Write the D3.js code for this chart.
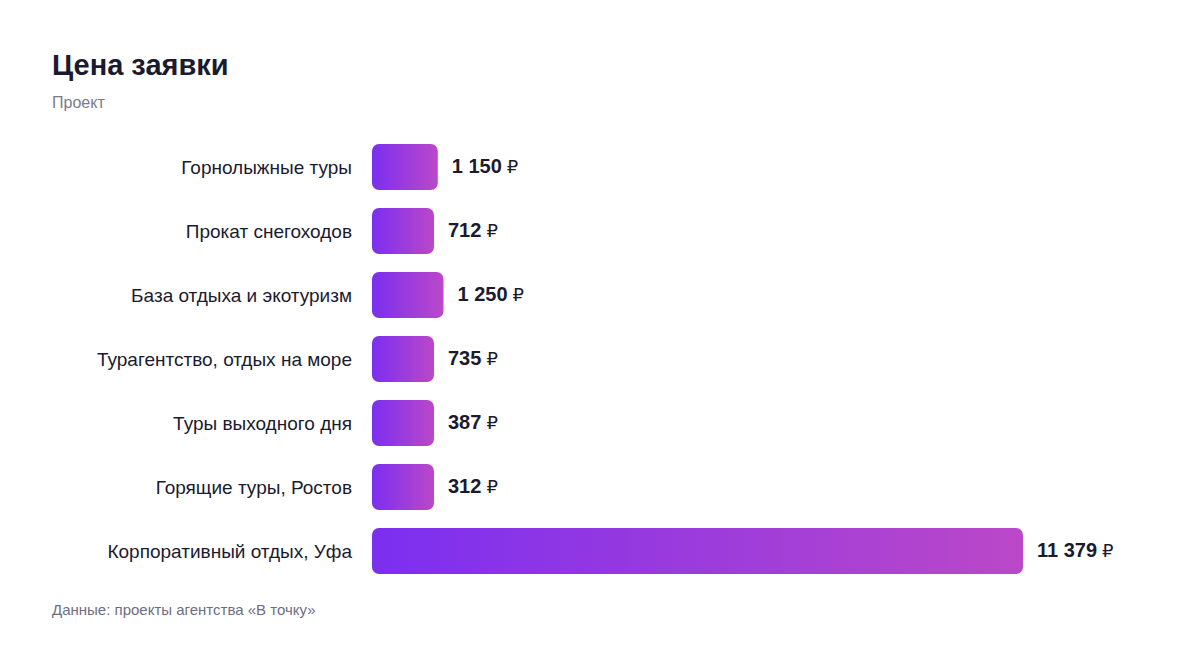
<!DOCTYPE html>
<meta charset="utf-8">
<style>
  body { margin: 0; background: #fff; }
  text { font-family: "Liberation Sans", Arial, Helvetica, sans-serif; }
</style>
<body>
<script src="https://cdn.jsdelivr.net/npm/d3@7"></script>
<script>

var categories = [
  "Горнолыжные туры",
  "Прокат снегоходов",
  "База отдыха и экотуризм",
  "Турагентство, отдых на море",
  "Туры выходного дня",
  "Горящие туры, Ростов",
  "Корпоративный отдых, Уфа"
];
var values = [1150, 712, 1250, 735, 387, 312, 11379];

var width = 1200,
    height = 648;

var svg = d3.select("body").append("svg")
    .attr("width", width)
    .attr("height", height);

// gradient for the bars
var grad = svg.append("defs").append("linearGradient")
    .attr("id", "barGrad")
    .attr("x1", "0%").attr("x2", "100%")
    .attr("y1", "0%").attr("y2", "0%");
grad.append("stop").attr("offset", "0%").attr("stop-color", "#7b2ff0");
grad.append("stop").attr("offset", "100%").attr("stop-color", "#bb48c8");

// titles
svg.append("text")
    .attr("x", 52).attr("y", 75)
    .style("font-size", "29px")
    .style("font-weight", "bold")
    .style("fill", "#1b1b2f")
    .text("Цена заявки");

svg.append("text")
    .attr("x", 52).attr("y", 108)
    .style("font-size", "16px")
    .style("fill", "#7a7a8c")
    .text("Проект");

svg.append("text")
    .attr("x", 52).attr("y", 615)
    .style("font-size", "15px")
    .style("fill", "#6e6e82")
    .text("Данные: проекты агентства «В точку»");

// scales
var x0 = 372;
var x = d3.scaleLinear()
    .domain([0, d3.max(values)])
    .range([0, 651]);

var y = d3.scaleBand()
    .domain(categories)
    .range([135, 583])
    .paddingInner(18 / 64)
    .paddingOuter(9 / 64);

var minW = 62;
function barW(v) { return Math.max(minW, x(v)); }

var data = categories.map(function(c, i) { return { name: c, value: values[i] }; });

var row = svg.selectAll(".row")
    .data(data)
  .enter().append("g")
    .attr("class", "row");

row.append("rect")
    .attr("x", x0)
    .attr("y", function(d) { return y(d.name); })
    .attr("width", function(d) { return barW(d.value); })
    .attr("height", y.bandwidth())
    .attr("rx", 7)
    .style("fill", "url(#barGrad)");

row.append("text")
    .attr("x", 352)
    .attr("y", function(d) { return y(d.name) + y.bandwidth() / 2; })
    .attr("dy", ".35em")
    .attr("text-anchor", "end")
    .style("font-size", "19px")
    .style("fill", "#1b1b2f")
    .text(function(d) { return d.name; });

var fmt = function(v) { return d3.format(",")(v).replace(/,/g, " "); };

var lab = row.append("text")
    .attr("x", function(d) { return x0 + barW(d.value) + 14; })
    .attr("y", function(d) { return y(d.name) + y.bandwidth() / 2; })
    .attr("dy", ".35em")
    .style("fill", "#1b1b2f");

lab.append("tspan")
    .style("font-size", "20px")
    .style("font-weight", "bold")
    .text(function(d) { return fmt(d.value); });

lab.append("tspan")
    .attr("dx", 5)
    .style("font-size", "18px")
    .style("font-family", "'DejaVu Sans', sans-serif")
    .style("fill", "#1b1b2f")
    .text("₽");

</script>
